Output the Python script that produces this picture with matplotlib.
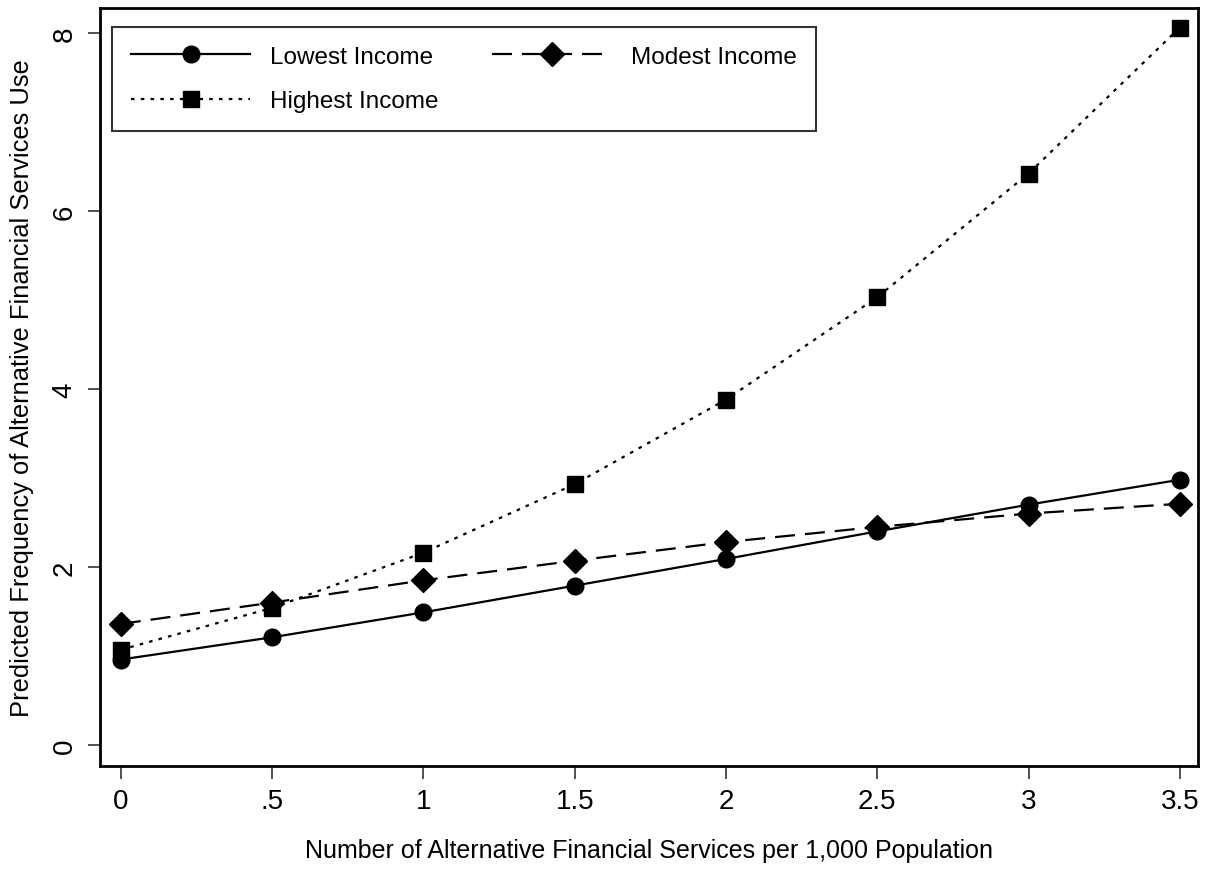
import matplotlib
matplotlib.use("Agg")
import matplotlib.pyplot as plt

plt.rcParams['font.family'] = ['Liberation Sans', 'DejaVu Sans']

x = [0, 0.5, 1, 1.5, 2, 2.5, 3, 3.5]
x_labels = ["0", ".5", "1", "1.5", "2", "2.5", "3", "3.5"]
lowest = [0.96, 1.21, 1.49, 1.79, 2.09, 2.40, 2.70, 2.98]
modest = [1.36, 1.60, 1.85, 2.07, 2.28, 2.45, 2.60, 2.71]
highest = [1.07, 1.54, 2.16, 2.93, 3.88, 5.03, 6.42, 8.06]
y_ticks = [0, 2, 4, 6, 8]

fig = plt.figure(figsize=(12.16, 8.70), dpi=100)
ax = fig.add_axes([0.0822, 0.1184, 0.9030, 0.8713])

lw = 1.6
h_low, = ax.plot(x, lowest, color='black', lw=lw, ls='-', marker='o', ms=12,
                 label='Lowest Income')
h_mod, = ax.plot(x, modest, color='black', lw=lw, ls=(0, (9, 4.5)), marker='D', ms=12.5,
                 label='Modest Income')
h_high, = ax.plot(x, highest, color='black', lw=lw, ls=(0, (1.6, 2.8)), marker='s', ms=12,
                  label='Highest Income')

ax.set_xlim(-0.069, 3.56)
ax.set_ylim(-0.236, 8.28)
ax.set_xticks(x)
ax.set_xticklabels(x_labels)
ax.set_yticks(y_ticks)
ax.set_yticklabels([str(v) for v in y_ticks], rotation=90, va='center')
ax.tick_params(axis='both', labelsize=20, length=9, width=1.2, color='#333333')
ax.tick_params(axis='x', pad=7)
ax.tick_params(axis='y', pad=7)
for s in ax.spines.values():
    s.set_linewidth(2)

ax.set_xlabel('Number of Alternative Financial Services per 1,000 Population', fontsize=18, labelpad=17)
ax.set_ylabel('Predicted Frequency of Alternative Financial Services Use', fontsize=18.4, labelpad=13)

# column-major fill: col1 = Lowest, Highest ; col2 = Modest
leg = ax.legend([h_low, h_high, h_mod],
                ['Lowest Income', 'Highest Income', 'Modest Income'], ncol=2,
                loc='upper left', bbox_to_anchor=(0.011, 0.975), borderaxespad=0,
                fontsize=17.5, frameon=True, fancybox=False, edgecolor='black',
                handlelength=4.9, borderpad=0.78, columnspacing=2.2,
                labelspacing=0.92, handletextpad=0.82)
leg.get_frame().set_linewidth(1.5)

fig.savefig('out.png', dpi=100)
